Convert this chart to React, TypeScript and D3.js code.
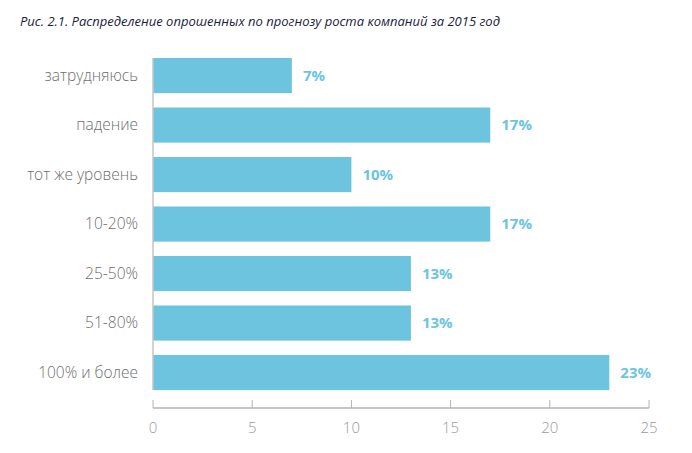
import React from "react";
import * as d3 from "d3";

const categories = ["затрудняюсь", "падение", "тот же уровень", "10-20%", "25-50%", "51-80%", "100% и более"];
const values = [7, 17, 10, 17, 13, 13, 23];
const ticks = [0, 5, 10, 15, 20, 25];
const title = "Рис. 2.1. Распределение опрошенных по прогнозу роста компаний за 2015 год";

const W = 692;
const H = 453;

export default function App() {
  const x = d3.scaleLinear().domain([0, 25]).range([153, 649]);
  const y = d3.scaleBand<string>().domain(categories).range([50.8, 397.3]).paddingInner(0.29).paddingOuter(0.145);
  const axisY = 408;
  const first = y(categories[0])!;
  const last = y(categories[categories.length - 1])! + y.bandwidth();
  return (
    <svg width={W} height={H} style={{ position: "absolute", left: 0, top: 0 }}>
      <rect width={W} height={H} fill="#fff" />
      <text x={20} y={26} fontFamily="'Open Sans', sans-serif" fontStyle="italic" fontSize={13} textLength={480} lengthAdjust="spacingAndGlyphs" fill="#1c1c3c">{title}</text>
      {categories.map((c, i) => (
        <g key={c}>
          <rect x={x(0)} y={y(c)} width={x(values[i]) - x(0)} height={y.bandwidth()} fill="#6dc4df" />
          <text x={138} y={y(c)! + y.bandwidth() / 2} dy="0.35em" textAnchor="end" fontFamily="'Open Sans', sans-serif" fontWeight={300} fontSize={15.5} fill="#6e6e6e">{c}</text>
          <text x={x(values[i]) + 11} y={y(c)! + y.bandwidth() / 2} dy="0.35em" fontFamily="'Open Sans', sans-serif" fontWeight="bold" fontSize={15} fill="#6dc4df">{values[i] + "%"}</text>
        </g>
      ))}
      <line x1={x(0)} x2={x(0)} y1={first} y2={last} stroke="#c4c4c4" strokeWidth={1.5} />
      <line x1={x(0)} x2={x(25)} y1={axisY} y2={axisY} stroke="#b4b4b4" strokeWidth={1.5} />
      {ticks.map((t) => (
        <g key={t}>
          <line x1={x(t)} x2={x(t)} y1={axisY - 8} y2={axisY} stroke="#b4b4b4" strokeWidth={1} />
          <text x={x(t)} y={433} textAnchor="middle" fontFamily="'Open Sans', sans-serif" fontWeight={300} fontSize={15} fill="#9a9a9a">{t}</text>
        </g>
      ))}
    </svg>
  );
}
